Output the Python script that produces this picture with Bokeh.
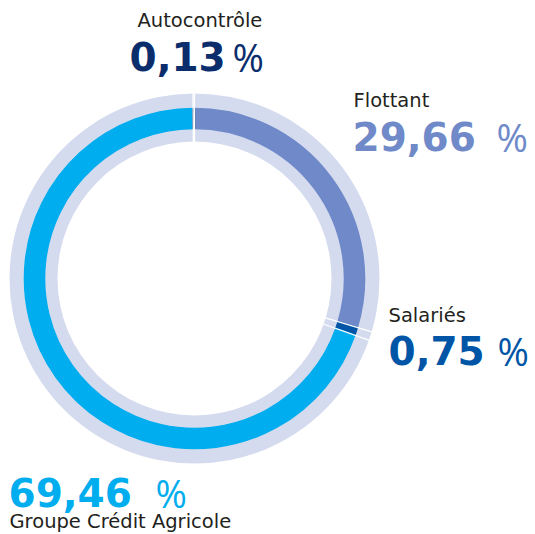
import numpy as np
from bokeh.plotting import figure
from bokeh.models import Range1d, ColumnDataSource
from bokeh.core.properties import value
from bokeh.embed import file_html
from bokeh.resources import INLINE

# ---- data (clockwise from top) ----
labels = ["Flottant", "Salariés", "Groupe Crédit Agricole", "Autocontrôle"]
shares = [29.66, 0.75, 69.46, 0.13]
colors = ["#6f89c9", "#0055a6", "#00adee", "#0b2d6c"]

# ---- layout (page coords: y measured downward, converted below) ----
W, H = 535, 534
def Y(py):
    return H - py

cx, cy = 194, Y(278)
r_light_in, r_light_out = 137, 185
r_col_in, r_col_out = 150, 170
ring_bg = "#d5dbee"

p = figure(width=W, height=H, output_backend="svg", toolbar_location=None,
           x_range=Range1d(0, W), y_range=Range1d(0, H),
           min_border=0, outline_line_color=None)
p.axis.visible = False
p.grid.visible = False
p.background_fill_color = "white"
p.border_fill_color = "white"

cum = np.concatenate([[0], np.cumsum(shares)])
ang = np.deg2rad(90 - 360 * cum / 100.0)  # boundaries, clockwise
starts = ang[1:]
ends = ang[:-1]

# light full ring
p.annular_wedge(x=cx, y=cy, inner_radius=r_light_in, outer_radius=r_light_out,
                start_angle=0, end_angle=2 * np.pi, fill_color=ring_bg, line_color=None)

src = ColumnDataSource(dict(start=starts, end=ends, color=colors))
p.annular_wedge(x=cx, y=cy, inner_radius=r_col_in, outer_radius=r_col_out,
                start_angle="start", end_angle="end", fill_color="color",
                line_color="color", line_width=1.6, source=src)

# white separators at boundaries
b = ang[:-1]
seg = ColumnDataSource(dict(
    x0=cx + (r_light_in - 2) * np.cos(b), y0=cy + (r_light_in - 2) * np.sin(b),
    x1=cx + (r_light_out + 2) * np.cos(b), y1=cy + (r_light_out + 2) * np.sin(b)))
p.segment(x0="x0", y0="y0", x1="x1", y1="y1", line_color="white", line_width=1.3, source=seg)

# ---- texts ----
LAB_FS, NUM_FS, PCT_FS = 19.5, 39, 38
label_pos = [(353, 108), (388, 323), (9, 529), (137, 28)]
num_pos = [(352, 152), (388, 366), (8, 508), (129, 72)]
pct_x = [496, 497, 155, 232]

nums = [f"{v:.2f}".replace(".", ",") for v in shares]

# bokeh's svg alphabetic baseline sits ~0.4em lower; compensate
p.text(x=[q[0] for q in label_pos], y=[Y(q[1] - 0.4 * LAB_FS) for q in label_pos], text=labels,
       text_font=value("DejaVu Sans"), text_font_size=f"{LAB_FS}px", text_color="#231f20",
       text_baseline="alphabetic", text_align="left")
p.text(x=[q[0] for q in num_pos], y=[Y(q[1] - 0.4 * NUM_FS) for q in num_pos], text=nums,
       text_font=value("DejaVu Sans"), text_font_style="bold", text_font_size=f"{NUM_FS}px",
       text_color=colors, text_baseline="alphabetic", text_align="left")
p.text(x=pct_x, y=[Y(q[1] - 0.4 * PCT_FS) for q in num_pos], text=["%"] * 4,
       text_font=value("Open Sans"), text_font_size=f"{PCT_FS}px",
       text_color=colors, text_baseline="alphabetic", text_align="left")

open("out.html", "w").write(file_html(p, INLINE))
